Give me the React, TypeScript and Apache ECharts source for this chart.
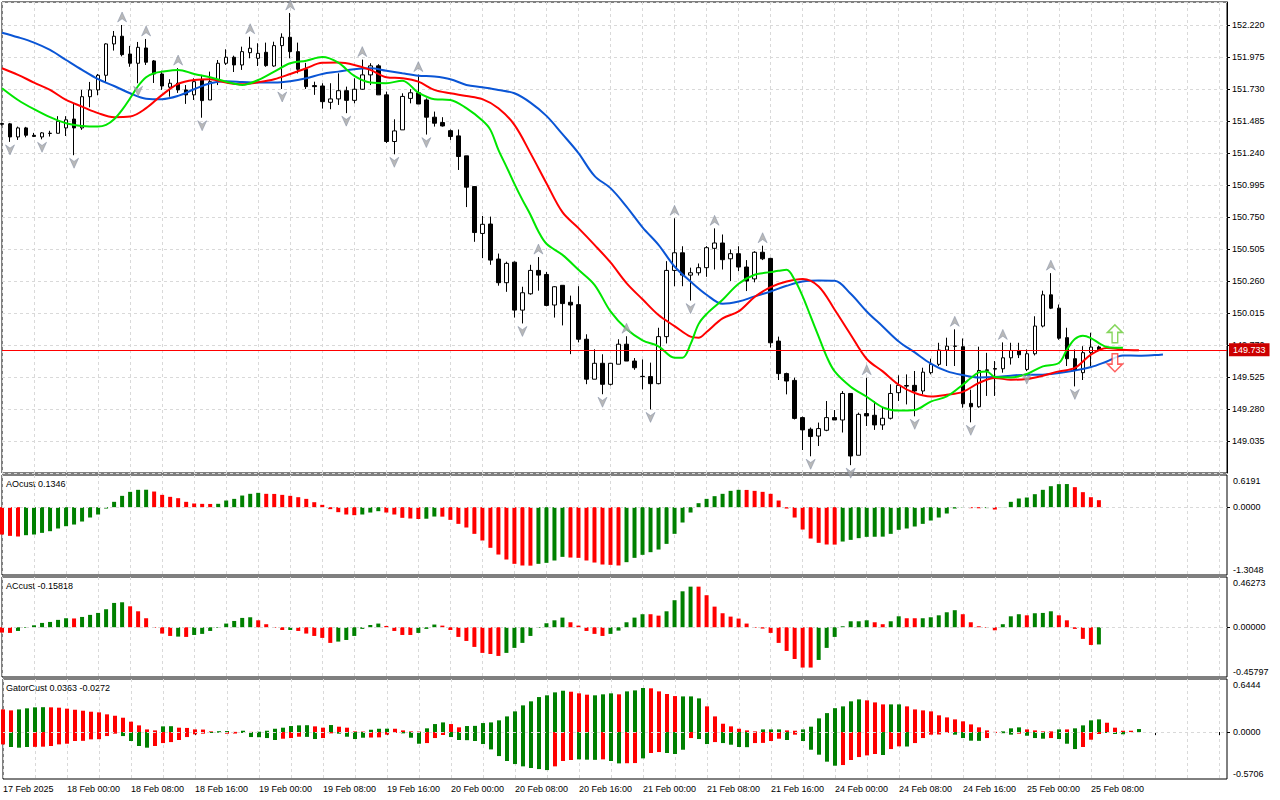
import React, { useEffect, useRef } from "react";
import * as echarts from "echarts";

// ---------- price scale ----------
const PRICE_BASE = 148.79; // bottom edge of the price panel (a tick level)
const PRICE_STEP = 0.245;
const PRICE_TOP = 152.396;
const LAST_PRICE = 149.733;

// ---------- time axis ----------
const tickLabels = [
  "17 Feb 2025", "18 Feb 00:00", "18 Feb 08:00", "18 Feb 16:00", "19 Feb 00:00",
  "19 Feb 08:00", "19 Feb 16:00", "20 Feb 00:00", "20 Feb 08:00", "20 Feb 16:00",
  "21 Feb 00:00", "21 Feb 08:00", "21 Feb 16:00", "24 Feb 00:00", "24 Feb 08:00",
  "24 Feb 16:00", "25 Feb 00:00", "25 Feb 08:00",
];
const SLOT_COUNT = 154;

// ---------- candles [open, close, low, high] ----------
const candles: number[][] = [
  [151.465, 151.46, 151.45, 151.47], [151.463, 151.363, 151.325, 151.47], [151.363, 151.432, 151.34, 151.442],
  [151.432, 151.376, 151.36, 151.44], [151.375, 151.367, 151.362, 151.394], [151.363, 151.394, 151.345, 151.4],
  [151.391, 151.39, 151.366, 151.41], [151.391, 151.483, 151.39, 151.522], [151.432, 151.494, 151.37, 151.522],
  [151.5, 151.432, 151.223, 151.616], [151.432, 151.671, 151.417, 151.723], [151.671, 151.723, 151.59, 151.784],
  [151.723, 151.835, 151.682, 151.845], [151.835, 152.075, 151.784, 152.08], [152.075, 152.134, 152.024, 152.174],
  [152.134, 151.993, 151.98, 152.22], [151.998, 151.927, 151.9, 152.06], [151.927, 152.049, 151.774, 152.09],
  [152.044, 151.935, 151.914, 152.113], [151.945, 151.845, 151.776, 151.952], [151.845, 151.753, 151.723, 151.87],
  [151.744, 151.774, 151.671, 151.805], [151.774, 151.723, 151.7, 151.89], [151.723, 151.685, 151.616, 151.76],
  [151.685, 151.786, 151.646, 151.812], [151.799, 151.641, 151.51, 151.838], [151.646, 151.786, 151.646, 151.863],
  [151.786, 151.927, 151.76, 151.952], [151.927, 151.973, 151.914, 152.034], [151.973, 151.914, 151.86, 151.985],
  [151.914, 152.016, 151.876, 152.054], [152.008, 152.042, 151.965, 152.13], [151.965, 152.003, 151.906, 152.08],
  [152.011, 151.909, 151.9, 152.085], [151.906, 152.062, 151.9, 152.092], [152.062, 152.126, 151.73, 152.156],
  [152.126, 152.016, 151.965, 152.312], [152.016, 151.881, 151.85, 152.085], [151.881, 151.748, 151.73, 151.93],
  [151.756, 151.748, 151.685, 151.786], [151.753, 151.633, 151.58, 151.774], [151.628, 151.654, 151.575, 151.774],
  [151.654, 151.717, 151.608, 151.85], [151.717, 151.643, 151.545, 151.748], [151.643, 151.728, 151.62, 151.812],
  [151.728, 151.838, 151.723, 151.955], [151.838, 151.907, 151.76, 151.927], [151.907, 151.685, 151.685, 151.92],
  [151.685, 151.328, 151.316, 151.71], [151.328, 151.409, 151.23, 151.498], [151.417, 151.673, 151.417, 151.697],
  [151.658, 151.701, 151.62, 151.728], [151.701, 151.615, 151.615, 151.84], [151.646, 151.514, 151.381, 151.658],
  [151.514, 151.468, 151.442, 151.557], [151.473, 151.447, 151.442, 151.514], [151.411, 151.366, 151.34, 151.42],
  [151.371, 151.213, 151.11, 151.42], [151.218, 150.978, 150.826, 151.218], [150.983, 150.631, 150.56, 150.987],
  [150.624, 150.694, 150.435, 150.758], [150.696, 150.42, 150.384, 150.753], [150.428, 150.247, 150.224, 150.47],
  [150.247, 150.395, 150.177, 150.408], [150.404, 150.037, 149.98, 150.41], [150.037, 150.17, 149.935, 150.216],
  [150.162, 150.341, 150.155, 150.384], [150.341, 150.305, 150.186, 150.443], [150.31, 150.073, 150.066, 150.33],
  [150.076, 150.216, 149.98, 150.22], [150.227, 150.087, 149.92, 150.227], [150.097, 150.076, 149.7, 150.148],
  [150.079, 149.814, 149.79, 150.22], [149.814, 149.508, 149.47, 149.852], [149.508, 149.63, 149.508, 149.737],
  [149.63, 149.469, 149.393, 149.699], [149.469, 149.63, 149.46, 149.63], [149.623, 149.776, 149.623, 149.814],
  [149.776, 149.647, 149.647, 149.837], [149.647, 149.596, 149.58, 149.67], [149.53, 149.528, 149.43, 149.66],
  [149.528, 149.474, 149.277, 149.635], [149.474, 149.834, 149.469, 149.902], [149.834, 150.341, 149.782, 150.412],
  [150.341, 150.476, 150.22, 150.74], [150.476, 150.305, 150.22, 150.526], [150.305, 150.323, 150.11, 150.362],
  [150.323, 150.362, 150.302, 150.394], [150.362, 150.515, 150.292, 150.527], [150.51, 150.551, 150.348, 150.663],
  [150.551, 150.423, 150.348, 150.616], [150.43, 150.469, 150.26, 150.501], [150.469, 150.367, 150.335, 150.526],
  [150.367, 150.26, 150.183, 150.42], [150.276, 150.48, 150.25, 150.488], [150.48, 150.43, 150.42, 150.53],
  [150.433, 149.787, 149.75, 150.438], [149.8, 149.551, 149.502, 149.834], [149.551, 149.494, 149.392, 149.558],
  [149.499, 149.208, 149.2, 149.52], [149.214, 149.12, 148.966, 149.222], [149.125, 149.069, 148.918, 149.138],
  [149.073, 149.13, 148.997, 149.176], [149.117, 149.214, 149.11, 149.341], [149.214, 149.196, 149.196, 149.272],
  [149.196, 149.399, 149.1, 149.417], [149.399, 148.92, 148.85, 149.399], [148.926, 149.239, 148.926, 149.252],
  [149.245, 149.227, 149.15, 149.519], [149.232, 149.158, 149.12, 149.341], [149.158, 149.209, 149.12, 149.29],
  [149.209, 149.399, 149.2, 149.469], [149.405, 149.461, 149.341, 149.538], [149.455, 149.46, 149.315, 149.545],
  [149.461, 149.418, 149.224, 149.571], [149.418, 149.562, 149.392, 149.596], [149.558, 149.622, 149.545, 149.665],
  [149.622, 149.731, 149.609, 149.787], [149.731, 149.761, 149.609, 149.826], [149.76, 149.762, 149.609, 149.89],
  [149.757, 149.32, 149.29, 149.82], [149.323, 149.297, 149.178, 149.428], [149.297, 149.575, 149.29, 149.757],
  [149.575, 149.58, 149.38, 149.71], [149.585, 149.59, 149.38, 149.647], [149.588, 149.672, 149.558, 149.79],
  [149.672, 149.728, 149.62, 149.787], [149.728, 149.695, 149.67, 149.787], [149.583, 149.703, 149.57, 149.736],
  [149.703, 149.915, 149.69, 149.99], [149.915, 150.154, 149.905, 150.186], [150.154, 150.052, 150.045, 150.32],
  [150.052, 149.822, 149.81, 150.08], [149.826, 149.665, 149.609, 149.902], [149.665, 149.578, 149.453, 149.736],
  [149.558, 149.711, 149.502, 149.761], [149.711, 149.754, 149.609, 149.864], [149.755, 149.733, 149.725, 149.765],
];

// ---------- fractals (candle indices) ----------
const upFractals = [15, 18, 22, 31, 36, 45, 52, 67, 78, 84, 89, 95, 108, 119, 125, 131];
const downFractals = [1, 5, 9, 17, 25, 35, 43, 49, 53, 65, 75, 81, 86, 101, 106, 114, 121, 128, 134];

// ---------- alligator lines [slot index, price] ----------
const jawLine: number[][] = [
  [0, 152.161], [2, 152.126], [4, 152.085], [6, 152.029], [8, 151.952], [10, 151.876], [12, 151.805], [14, 151.753],
  [16, 151.697], [18, 151.656], [20, 151.652], [22, 151.677], [24, 151.728], [26, 151.774], [28, 151.789], [30, 151.784],
  [32, 151.779], [34, 151.779], [36, 151.789], [38, 151.812], [40, 151.845], [42, 151.863], [44, 151.881], [46, 151.889],
  [48, 151.87], [50, 151.85], [52, 151.832], [54, 151.825], [56, 151.805], [58, 151.761], [60, 151.743], [62, 151.723],
  [64, 151.697], [66, 151.626], [68, 151.524], [70, 151.384], [72, 151.239], [74, 151.065], [76, 150.971], [78, 150.83],
  [80, 150.671], [82, 150.537], [84, 150.371], [86, 150.256], [88, 150.155], [90, 150.086], [92, 150.103], [94, 150.142],
  [96, 150.18], [98, 150.223], [100, 150.256], [102, 150.264], [104, 150.262], [106, 150.162], [108, 150.027], [110, 149.912],
  [112, 149.797], [114, 149.713], [116, 149.628], [118, 149.57], [120, 149.54], [122, 149.522], [124, 149.525], [126, 149.535],
  [128, 149.543], [130, 149.543], [132, 149.556], [134, 149.575], [136, 149.601], [138, 149.644], [140, 149.69], [142, 149.688],
  [144, 149.693], [145, 149.698],
];
const teethLine: number[][] = [
  [0, 151.889], [2, 151.838], [4, 151.779], [6, 151.723], [8, 151.646], [10, 151.595], [12, 151.545], [14, 151.514],
  [16, 151.519], [18, 151.583], [20, 151.685], [22, 151.769], [24, 151.799], [26, 151.805], [28, 151.779], [30, 151.766],
  [32, 151.782], [34, 151.805], [36, 151.845], [38, 151.889], [40, 151.93], [42, 151.932], [44, 151.914], [46, 151.876],
  [48, 151.82], [50, 151.812], [52, 151.786], [54, 151.723], [56, 151.697], [58, 151.677], [60, 151.652], [62, 151.583],
  [64, 151.455], [66, 151.239], [68, 151.009], [70, 150.787], [72, 150.665], [74, 150.537], [76, 150.402], [78, 150.244],
  [80, 150.12], [82, 149.999], [84, 149.915], [86, 149.834], [87, 149.826], [88, 149.87], [90, 149.974], [92, 150.027],
  [94, 150.137], [96, 150.213], [98, 150.256], [100, 150.275], [102, 150.218], [104, 150.04], [106, 149.849], [108, 149.663],
  [110, 149.568], [112, 149.466], [114, 149.402], [116, 149.376], [118, 149.389], [120, 149.411], [122, 149.479], [124, 149.517],
  [126, 149.504], [128, 149.51], [130, 149.535], [132, 149.568], [134, 149.594], [136, 149.696], [138, 149.747], [140, 149.734],
  [142, 149.729],
];
const lipsLine: number[][] = [
  [0, 151.736], [2, 151.646], [4, 151.575], [6, 151.514], [8, 151.468], [10, 151.447], [12, 151.442], [13, 151.455],
  [14, 151.498], [15, 151.57], [16, 151.659], [17, 151.753], [18, 151.82], [19, 151.85], [20, 151.863], [22, 151.876],
  [24, 151.845], [26, 151.82], [28, 151.786], [30, 151.761], [32, 151.799], [34, 151.863], [36, 151.927], [38, 151.947],
  [40, 151.975], [42, 151.932], [44, 151.83], [46, 151.779], [48, 151.774], [50, 151.794], [52, 151.702], [54, 151.652],
  [56, 151.646], [58, 151.583], [60, 151.488], [61, 151.417], [62, 151.264], [63, 151.136], [64, 151.004], [65, 150.881],
  [66, 150.767], [67, 150.639], [68, 150.545], [70, 150.46], [72, 150.346], [74, 150.231], [76, 150.027], [78, 149.892],
  [80, 149.806], [82, 149.76], [84, 149.673], [85, 149.673], [86, 149.777], [87, 149.93], [88, 150.007], [90, 150.116],
  [92, 150.239], [94, 150.308], [96, 150.328], [97, 150.338], [98, 150.346], [99, 150.269], [100, 150.142], [101, 149.989],
  [102, 149.834], [103, 149.681], [104, 149.568], [106, 149.451], [108, 149.374], [110, 149.293], [112, 149.268], [114, 149.273],
  [116, 149.337], [118, 149.376], [120, 149.466], [121, 149.517], [122, 149.56], [123, 149.568], [124, 149.525], [126, 149.522],
  [128, 149.548], [130, 149.606], [132, 149.632], [133, 149.734], [134, 149.816], [135, 149.841], [136, 149.823], [137, 149.785],
  [138, 149.754], [139, 149.749], [140, 149.749],
];

// ---------- signal arrows [slot index, price] ----------
const buySignal = [139, 149.856];
const sellSignal = [139, 149.634];

// ---------- AO ----------
const aoScale = { min: -1.3048, max: 0.6191, digits: 4 };
const aoValues = [
  -0.526, -0.552, -0.564, -0.539, -0.526, -0.494, -0.462, -0.41, -0.366, -0.334,
  -0.276, -0.199, -0.141, -0.026, 0.103, 0.218, 0.295, 0.334, 0.336, 0.301,
  0.237, 0.199, 0.173, 0.103, 0.071, 0.064, 0.062, 0.065, 0.128, 0.16,
  0.224, 0.257, 0.276, 0.257, 0.255, 0.237, 0.218, 0.192, 0.16, 0.096,
  0.045, -0.038, -0.096, -0.141, -0.154, -0.141, -0.103, -0.077, -0.103, -0.141,
  -0.205, -0.218, -0.228, -0.222, -0.18, -0.182, -0.244, -0.321, -0.391, -0.513,
  -0.641, -0.782, -0.911, -1.007, -1.09, -1.122, -1.125, -1.09, -1.071, -1.026,
  -0.956, -0.969, -0.975, -1.026, -1.065, -1.103, -1.11, -1.122, -1.058, -0.975,
  -0.917, -0.866, -0.815, -0.706, -0.513, -0.295, -0.103, 0.077, 0.16, 0.212,
  0.257, 0.314, 0.334, 0.332, 0.314, 0.295, 0.257, 0.128, -0.026, -0.199,
  -0.43, -0.603, -0.686, -0.718, -0.72, -0.661, -0.629, -0.596, -0.571, -0.569,
  -0.567, -0.513, -0.436, -0.41, -0.372, -0.321, -0.257, -0.199, -0.122, -0.026,
  -0.006, -0.019, -0.021, -0.018, -0.045, 0.002, 0.103, 0.167, 0.186, 0.25,
  0.334, 0.404, 0.443, 0.445, 0.385, 0.289, 0.192, 0.1346,
];
const aoColorString =
  "rrr" + "gggggggggggggggg" + "rrrrrrrr" + "gggggg" + "rrrrrrrrrrrr" + "ggg" + "rrrrr" + "gg" +
  "rrrrrrrrrrrr" + "gggg" + "rrrrrrr" + "ggggggggggggggg" + "rrrrrrrrrrrr" + "gggggggggggggggg" +
  "rr" + "g" + "r" + "ggggggggg" + "rrrr";

// ---------- AC ----------
const acScale = { min: -0.45797, max: 0.46273, digits: 5 };
const acValues = [
  -0.049, -0.052, -0.034, -0.006, 0.018, 0.04, 0.049, 0.068, 0.083, 0.081,
  0.095, 0.114, 0.132, 0.166, 0.224, 0.23, 0.193, 0.147, 0.083, -0.006,
  -0.058, -0.08, -0.086, -0.089, -0.071, -0.061, -0.034, -0.006, 0.034, 0.058,
  0.086, 0.092, 0.064, 0.028, -0.006, -0.025, -0.025, -0.034, -0.058, -0.08,
  -0.098, -0.144, -0.132, -0.117, -0.08, -0.015, 0.021, 0.034, 0.012, -0.034,
  -0.071, -0.071, -0.052, -0.015, 0.025, 0.015, -0.025, -0.089, -0.126, -0.181,
  -0.236, -0.246, -0.264, -0.236, -0.19, -0.144, -0.08, -0.006, 0.037, 0.064,
  0.089, 0.046, 0.015, -0.034, -0.061, -0.08, -0.061, -0.031, 0.046, 0.089,
  0.12, 0.12, 0.107, 0.147, 0.249, 0.331, 0.374, 0.374, 0.295, 0.19,
  0.129, 0.098, 0.08, 0.034, -0.006, -0.012, -0.052, -0.144, -0.218, -0.292,
  -0.371, -0.371, -0.301, -0.19, -0.089, 0.009, 0.055, 0.055, 0.064, 0.046,
  0.028, 0.055, 0.101, 0.083, 0.083, 0.083, 0.092, 0.11, 0.138, 0.157,
  0.12, 0.046, 0.009, -0.006, -0.028, 0.028, 0.101, 0.12, 0.11, 0.129,
  0.132, 0.147, 0.11, 0.064, -0.015, -0.107, -0.163, -0.15818,
];
const acColorString =
  "rrgggggggr" + "ggggggrrrr" + "rrgrgggggg" + "ggrrrrgrrr" + "rrggggggrr" +
  "rrgggrrrrr" + "rrrggggggg" + "grrrrrgggg" + "grrggggrrr" + "rrrrrrrrrr" +
  "rrgggggggr" + "rggrrggggg" + "rrrrrgggrg" + "ggrrrrrg";

// ---------- Gator ----------
const gatorScale = { min: -0.5706, max: 0.6444, digits: 4 };
const gatorUp = [
  0.275, 0.263, 0.275, 0.288, 0.3, 0.302, 0.3, 0.296, 0.284, 0.271,
  0.259, 0.247, 0.239, 0.215, 0.198, 0.174, 0.126, 0.081, 0.032, 0.02,
  0.069, 0.071, 0.053, 0.05, 0.032, 0.03, 0.008, 0.01, 0.012, 0.002,
  0.016, 0.002, 0.004, 0.016, 0.04, 0.053, 0.073, 0.081, 0.083, 0.069,
  0.053, 0.085, 0.065, 0.053, 0.008, 0.006, 0.028, 0.04, 0.041, 0.04,
  0.02, 0.008, 0.006, 0.045, 0.097, 0.117, 0.097, 0.057, 0.073, 0.075,
  0.109, 0.117, 0.142, 0.19, 0.251, 0.324, 0.373, 0.425, 0.446, 0.482,
  0.502, 0.49, 0.47, 0.454, 0.446, 0.458, 0.47, 0.458, 0.494, 0.506,
  0.535, 0.531, 0.494, 0.462, 0.437, 0.433, 0.433, 0.409, 0.312, 0.19,
  0.101, 0.069, 0.04, 0.02, 0.008, 0.032, 0.032, 0.032, 0.02, 0.016,
  0.032, 0.065, 0.166, 0.23, 0.29, 0.312, 0.373, 0.397, 0.385, 0.36,
  0.336, 0.336, 0.336, 0.312, 0.275, 0.263, 0.251, 0.203, 0.178, 0.154,
  0.13, 0.093, 0.057, 0.02, 0.002, 0.008, 0.045, 0.057, 0.032, 0.02,
  0.008, 0.008, 0.032, 0.032, 0.045, 0.081, 0.142, 0.154, 0.113, 0.053,
  0.016, 0.016, 0.0363,
];
const gatorUpColorString =
  "rrggggrrrr" + "rrrrrrrrrr" + "ggrrrrrggr" + "grgggggggr" + "rgrrrrgggr" +
  "rrrgggrrgg" + "gggggggggg" + "grrrgggrgg" + "grrrrgggrr" + "rrrrrgggrr" +
  "ggggggggrr" + "rggrrrrrrr" + "rrrrrgggrr" + "rrgrggggrr" + "rrg";
const gatorDown = [
  -0.15, -0.182, -0.19, -0.182, -0.18, -0.178, -0.17, -0.15, -0.142, -0.109,
  -0.107, -0.089, -0.087, -0.049, -0.02, -0.049, -0.109, -0.17, -0.19, -0.17,
  -0.134, -0.122, -0.097, -0.061, -0.028, -0.02, -0.012, -0.008, -0.02, -0.018,
  -0.012, -0.061, -0.063, -0.073, -0.097, -0.081, -0.073, -0.057, -0.059, -0.085,
  -0.073, -0.016, -0.02, -0.057, -0.085, -0.069, -0.067, -0.065, -0.032, -0.012,
  -0.016, -0.069, -0.142, -0.134, -0.073, -0.036, -0.061, -0.097, -0.099, -0.109,
  -0.146, -0.211, -0.292, -0.352, -0.389, -0.417, -0.437, -0.45, -0.462, -0.417,
  -0.352, -0.34, -0.332, -0.336, -0.338, -0.332, -0.352, -0.381, -0.379, -0.377,
  -0.32, -0.255, -0.243, -0.255, -0.267, -0.215, -0.073, -0.085, -0.146, -0.122,
  -0.134, -0.154, -0.182, -0.184, -0.134, -0.132, -0.109, -0.081, -0.097, -0.032,
  -0.109, -0.215, -0.275, -0.36, -0.409, -0.401, -0.34, -0.304, -0.284, -0.267,
  -0.279, -0.207, -0.174, -0.176, -0.134, -0.073, -0.032, -0.03, -0.012, -0.032,
  -0.073, -0.105, -0.107, -0.073, -0.012, -0.014, -0.032, -0.02, -0.045, -0.073,
  -0.081, -0.073, -0.085, -0.142, -0.207, -0.182, -0.093, -0.024, -0.012, -0.024,
  -0.0272,
];
const gatorDownColorString =
  "rgggrrrrrr" + "rrrrrggggr" + "rrrrrrggrr" + "gggggrrrgg" + "rrggggrrrr" +
  "gggrrrgggg" + "gggggggggr" + "rrgggrggrr" + "grrgggrggr" + "ggggrrrrgr" +
  "gggggrrrrr" + "grrgrrrrrg" + "gggrrggrgg" + "grgggrrrgg" + "g";

// ---------- styling ----------
const FONT = "'Liberation Sans', Arial, sans-serif";
const GRID_COLOR = "#d9d9d9";
const BAR_GREEN = "#008000";
const BAR_RED = "#ff0000";
const PANELS = [
  { top: 2, height: 471 },
  { top: 475, height: 100 },
  { top: 577, height: 100 },
  { top: 679, height: 100 },
];

const sh = (p: number) => +(p - PRICE_BASE).toFixed(4);

function coloredBars(values: number[], colors: string) {
  return values.map((v, i) => ({
    value: v,
    itemStyle: { color: colors[i] === "g" ? BAR_GREEN : BAR_RED },
  }));
}

function subAxis(gridIndex: number, sc: { min: number; max: number; digits: number }) {
  const inset = (5.5 / 100) * (sc.max - sc.min);
  return {
    type: "value",
    gridIndex,
    position: "right",
    min: sc.min,
    max: sc.max,
    axisLine: { show: false },
    axisTick: { show: true, customValues: [0], length: 3, lineStyle: { color: "#000" } },
    splitLine: { show: false },
    axisLabel: {
      customValues: [sc.max - inset, 0, sc.min + inset],
      formatter: (v: number) =>
        Math.abs(v) < 1e-9 ? (0).toFixed(sc.digits) : v > 0 ? sc.max.toFixed(sc.digits) : sc.min.toFixed(sc.digits),
      fontSize: 9,
      fontFamily: FONT,
      color: "#000",
      margin: 6,
    },
  };
}

const makeZeroLine = () => ({
  silent: true,
  symbol: ["none", "none"],
  label: { show: false },
  lineStyle: { color: GRID_COLOR, type: [3, 3], width: 1 },
  data: [{ yAxis: 0 }],
});

const UP_FRACTAL = "path://M6,0 L12,11 L6,7.5 L0,11 Z";
const DOWN_FRACTAL = "path://M0,0 L6,3.5 L12,0 L6,11 Z";
const BUY_ARROW = "path://M8,0 L16,8 L11,8 L11,19 L5,19 L5,8 L0,8 Z";
const SELL_ARROW = "path://M5,0 L11,0 L11,11 L16,11 L8,19 L0,11 L5,11 Z";

function buildOption() {
  const categories = Array.from({ length: SLOT_COUNT }, (_, i) => String(i));
  const grid = PANELS.map((p) => ({
    left: 2,
    right: 53,
    top: p.top,
    height: p.height,
    show: true,
    borderColor: "#000",
    borderWidth: 1,
    backgroundColor: "transparent",
  }));
  const xAxis = PANELS.map((_, gi) => ({
    type: "category",
    gridIndex: gi,
    data: categories,
    boundaryGap: false,
    axisLine: { show: false },
    axisTick: { show: gi === 3, interval: 7, length: 3, lineStyle: { color: "#000" } },
    axisLabel: {
      show: gi === 3,
      interval: 7,
      align: "left",
      fontSize: 9,
      fontFamily: FONT,
      color: "#000",
      margin: 5,
      formatter: (_v: string, idx: number) => (idx % 8 === 0 ? tickLabels[idx / 8] ?? "" : ""),
    },
    splitLine: { show: true, interval: 3, lineStyle: { color: GRID_COLOR, type: [3, 3] } },
  }));
  const priceMax = PRICE_TOP - PRICE_BASE;
  const yAxis: any[] = [
    {
      type: "value",
      gridIndex: 0,
      position: "right",
      min: 0,
      max: priceMax,
      interval: PRICE_STEP,
      axisLine: { show: true, lineStyle: { color: "#000" } },
      axisTick: { show: true, length: 3, lineStyle: { color: "#000" } },
      axisLabel: {
        showMinLabel: false,
        showMaxLabel: false,
        fontSize: 9,
        fontFamily: FONT,
        color: "#000",
        margin: 5,
        formatter: (v: number) => (v + PRICE_BASE).toFixed(3),
      },
      splitLine: { show: true, lineStyle: { color: GRID_COLOR, type: [3, 3] } },
    },
    {
      type: "value",
      gridIndex: 0,
      position: "right",
      min: 0,
      max: priceMax,
      axisLine: { show: false },
      axisTick: { show: false },
      splitLine: { show: false },
      axisLabel: {
        customValues: [sh(LAST_PRICE)],
        formatter: () => LAST_PRICE.toFixed(3),
        fontSize: 9,
        fontFamily: FONT,
        color: "#ffffff",
        backgroundColor: "#cc0000",
        padding: [2, 4, 2, 4],
        margin: 2,
      },
    },
    subAxis(1, aoScale),
    subAxis(2, acScale),
    subAxis(3, gatorScale),
  ];

  const lineSeries = (data: number[][], color: string) => ({
    type: "line",
    xAxisIndex: 0,
    yAxisIndex: 0,
    data: data.map(([i, p]) => [i, sh(p)]),
    showSymbol: false,
    smooth: 0.35,
    lineStyle: { color, width: 2 },
    z: 3,
  });

  const series: any[] = [
    {
      type: "candlestick",
      xAxisIndex: 0,
      yAxisIndex: 0,
      barWidth: 4,
      data: candles.map(([o, c, l, h]) => [sh(o), sh(c), sh(l), sh(h)]),
      itemStyle: {
        color: "#ffffff",
        color0: "#000000",
        borderColor: "#000000",
        borderColor0: "#000000",
        borderWidth: 1,
      },
      markLine: {
        silent: true,
        symbol: ["none", "none"],
        label: { show: false },
        lineStyle: { color: "#ff0000", type: "solid", width: 1 },
        data: [{ yAxis: sh(LAST_PRICE) }],
      },
      z: 2,
    },
    lineSeries(jawLine, "#0a55d5"),
    lineSeries(teethLine, "#ff0000"),
    lineSeries(lipsLine, "#00e600"),
    {
      type: "scatter",
      xAxisIndex: 0,
      yAxisIndex: 0,
      symbol: UP_FRACTAL,
      symbolSize: [9, 10],
      symbolOffset: [0, -8],
      data: upFractals.map((i) => [i, sh(candles[i][3])]),
      itemStyle: { color: "#a6a6a6", borderColor: "#7a86a0", borderWidth: 0.6 },
      z: 4,
    },
    {
      type: "scatter",
      xAxisIndex: 0,
      yAxisIndex: 0,
      symbol: DOWN_FRACTAL,
      symbolSize: [9, 10],
      symbolOffset: [0, 8],
      data: downFractals.map((i) => [i, sh(candles[i][2])]),
      itemStyle: { color: "#a6a6a6", borderColor: "#7a86a0", borderWidth: 0.6 },
      z: 4,
    },
    {
      type: "scatter",
      xAxisIndex: 0,
      yAxisIndex: 0,
      symbol: BUY_ARROW,
      symbolSize: [15, 18],
      data: [[buySignal[0], sh(buySignal[1])]],
      itemStyle: { color: "#ffffff", borderColor: "#66cc33", borderWidth: 1.5 },
      z: 5,
    },
    {
      type: "scatter",
      xAxisIndex: 0,
      yAxisIndex: 0,
      symbol: SELL_ARROW,
      symbolSize: [15, 18],
      data: [[sellSignal[0], sh(sellSignal[1])]],
      itemStyle: { color: "#ffffff", borderColor: "#ff3333", borderWidth: 1.5 },
      z: 5,
    },
    {
      type: "bar",
      xAxisIndex: 1,
      yAxisIndex: 2,
      barWidth: 4,
      data: coloredBars(aoValues, aoColorString),
      markLine: makeZeroLine(),
    },
    {
      type: "bar",
      xAxisIndex: 2,
      yAxisIndex: 3,
      barWidth: 4,
      data: coloredBars(acValues, acColorString),
      markLine: makeZeroLine(),
    },
    {
      type: "bar",
      xAxisIndex: 3,
      yAxisIndex: 4,
      barWidth: 4,
      barGap: "-100%",
      data: coloredBars(gatorUp, gatorUpColorString),
      markLine: makeZeroLine(),
    },
    {
      type: "bar",
      xAxisIndex: 3,
      yAxisIndex: 4,
      barWidth: 4,
      barGap: "-100%",
      data: coloredBars(gatorDown, gatorDownColorString),
    },
  ];

  const lastAO = aoValues[aoValues.length - 1];
  const lastAC = acValues[acValues.length - 1];
  const lastUp = gatorUp[gatorUp.length - 1];
  const lastDown = gatorDown[gatorDown.length - 1];
  const titleStyle = { fontSize: 9, fontFamily: FONT, fill: "#000" };

  return {
    animation: false,
    backgroundColor: "#ffffff",
    textStyle: { fontFamily: FONT },
    grid,
    xAxis,
    yAxis,
    series,
    graphic: [
      { type: "text", left: 6, top: 479, style: { ...titleStyle, text: `AOcust ${lastAO.toFixed(4)}` } },
      { type: "text", left: 6, top: 581, style: { ...titleStyle, text: `ACcust ${lastAC.toFixed(5)}` } },
      {
        type: "text",
        left: 6,
        top: 683,
        style: { ...titleStyle, text: `GatorCust ${lastUp.toFixed(4)} ${lastDown.toFixed(4)}` },
      },
    ],
  };
}

export default function App() {
  const ref = useRef<HTMLDivElement>(null);
  useEffect(() => {
    if (!ref.current) return;
    const chart = echarts.init(ref.current, undefined, { renderer: "svg" });
    chart.setOption(buildOption() as any);
    return () => chart.dispose();
  }, []);
  return (
    <div
      ref={ref}
      style={{ position: "fixed", left: 0, top: 0, width: 1280, height: 800, background: "#fff" }}
    />
  );
}
